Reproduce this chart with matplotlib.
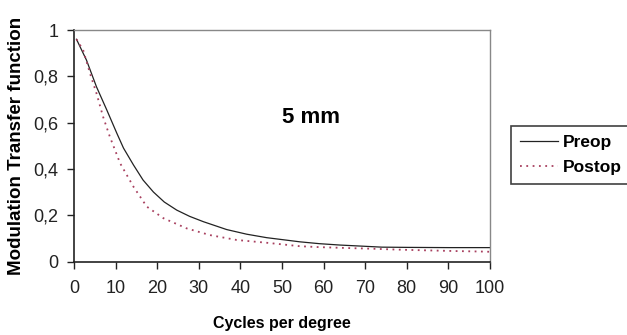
import matplotlib
matplotlib.use("Agg")
import matplotlib.pyplot as plt
from matplotlib.ticker import FuncFormatter

# ============================================
# DATA
# ============================================
preop_x = [0.6, 3.0, 5.4, 7.9, 10.3, 11.9, 14.3, 16.6, 19.1, 21.7, 24.7, 27.8, 31.1, 36.7, 41.5, 46.3, 54.3, 59, 64, 68.5, 74, 80, 90, 100]
preop_y = [0.96, 0.87, 0.755, 0.654, 0.554, 0.49, 0.417, 0.352, 0.30, 0.257, 0.222, 0.195, 0.172, 0.138, 0.118, 0.103, 0.085, 0.077, 0.071, 0.067, 0.062, 0.061, 0.06, 0.06]

postop_x = [0.6, 2.2, 3.9, 5.4, 7.0, 8.6, 11.1, 14.3, 17.5, 21.5, 27.1, 32.7, 39.1, 46.3, 54.3, 59, 66, 72, 78.4, 85, 92, 98, 100]
postop_y = [0.96, 0.914, 0.81, 0.727, 0.625, 0.54, 0.424, 0.323, 0.237, 0.187, 0.143, 0.114, 0.093, 0.081, 0.066, 0.062, 0.058, 0.055, 0.051, 0.048, 0.045, 0.043, 0.042]

x_ticks = [0, 10, 20, 30, 40, 50, 60, 70, 80, 90, 100]
y_ticks = [0, 0.2, 0.4, 0.6, 0.8, 1]

# ============================================
# PLOT
# ============================================
plt.rcParams["font.family"] = ["Liberation Sans", "DejaVu Sans"]

fig = plt.figure(figsize=(6.27, 3.35), dpi=100)
ax = fig.add_axes([0.118, 0.2194, 0.6635, 0.691])

ax.plot(preop_x, preop_y, color="#222222", linewidth=0.9, label="Preop")
ax.plot(postop_x, postop_y, color="#a8405f", linewidth=1.3, linestyle=(0, (1, 2.5)), label="Postop")

ax.set_xlim(0, 100)
ax.set_ylim(0, 1)
ax.set_xticks(x_ticks)
ax.set_yticks(y_ticks)
ax.yaxis.set_major_formatter(FuncFormatter(lambda v, p: ("%g" % v).replace(".", ",")))

ax.tick_params(direction="out", length=5, width=1, labelsize=13, pad=6, colors="#222222")
ax.tick_params(axis="x", pad=8)

for side in ["left", "bottom"]:
    ax.spines[side].set_color("#222222")
    ax.spines[side].set_linewidth(1.2)
for side in ["top", "right"]:
    ax.spines[side].set_color("#888888")
    ax.spines[side].set_linewidth(1.0)

ax.text(57, 0.62, "5 mm", fontsize=16, fontweight="bold", ha="center", va="center")

ax.set_xlabel("Cycles per degree", fontsize=11.5, fontweight="bold", labelpad=14)
ax.set_ylabel("Modulation Transfer function", fontsize=13.5, fontweight="bold", labelpad=6)

leg = fig.legend(loc="center", bbox_to_anchor=(0.9107, 0.537), frameon=True, fancybox=False,
                 handlelength=2.2, handletextpad=0.3, borderpad=0.5,
                 labelspacing=0.6, prop={"weight": "bold", "size": 12.5})
leg.get_frame().set_edgecolor("#111111")
leg.get_frame().set_linewidth(1.2)

plt.savefig("out.png", dpi=100)
